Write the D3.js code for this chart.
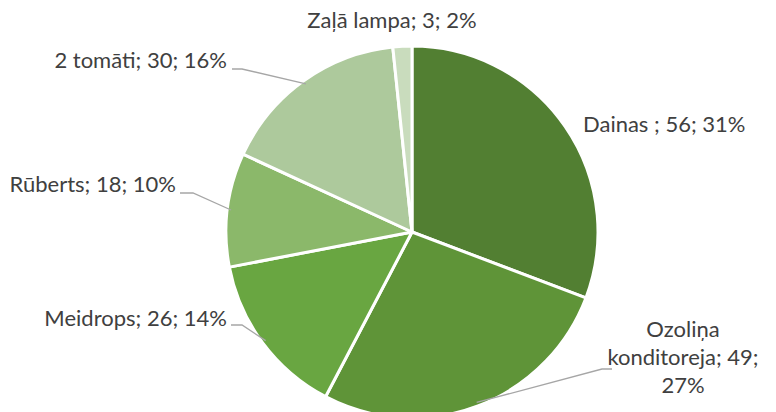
<!DOCTYPE html>
<html>
<head>
<meta charset="utf-8">
<script src="https://cdn.jsdelivr.net/npm/d3@7"></script>
<style>
  body { margin: 0; background: #fff; }
  text { font-family: Lato, "Open Sans", sans-serif; fill: #404040; font-size: 22px; }
</style>
</head>
<body>
<div id="chart"></div>
<script>
const categories = ["Dainas ", "Ozoliņa konditoreja", "Meidrops", "Rūberts", "2 tomāti", "Zaļā lampa"];
const values = [56, 49, 26, 18, 30, 3];
const colors = ["#527f32", "#5f9438", "#69a641", "#8bb86a", "#adc99c", "#c9dcbd"];

// label placement (anchor position + text alignment), in px
const labelPos = [
  { x: 583, y: 126, anchor: "start", lines: null, leader: null },
  { x: 683, y: 331, anchor: "middle", lines: ["Ozoliņa", "konditoreja; 49;", "27%"], leader: [[612, 369], [602, 369]] },
  { x: 227, y: 320, anchor: "end", lines: null, leader: [[231, 325], [242, 325]] },
  { x: 176, y: 186, anchor: "end", lines: null, leader: [[180, 193], [193, 193]] },
  { x: 227, y: 62, anchor: "end", lines: null, leader: [[232, 69], [242, 69]] },
  { x: 392, y: 22, anchor: "middle", lines: null, leader: null }
];

const width = 776, height = 412;
const cx = 412, cy = 232, radius = 186;

const total = d3.sum(values);
const pct = v => Math.round(v / total * 100) + "%";

const svg = d3.select("#chart").append("svg")
  .attr("width", width)
  .attr("height", height);

const g = svg.append("g").attr("transform", `translate(${cx},${cy})`);

const pie = d3.pie().sort(null).value(d => d)(values);
const arc = d3.arc().innerRadius(0).outerRadius(radius);
const edgeArc = d3.arc().innerRadius(radius * 0.98).outerRadius(radius * 0.98);

g.selectAll("path")
  .data(pie)
  .enter()
  .append("path")
  .attr("d", arc)
  .attr("fill", (d, i) => colors[i])
  .attr("stroke", "#fff")
  .attr("stroke-width", 3)
  .attr("stroke-linejoin", "round");

// leader lines
pie.forEach((d, i) => {
  const lp = labelPos[i];
  if (!lp.leader) return;
  const c = edgeArc.centroid(d);
  const pts = lp.leader.concat([[cx + c[0], cy + c[1]]]);
  svg.append("polyline")
    .attr("points", pts.map(p => p.join(",")).join(" "))
    .attr("fill", "none")
    .attr("stroke", "#a6a6a6")
    .attr("stroke-width", 1.3);
});

// labels
pie.forEach((d, i) => {
  const lp = labelPos[i];
  const t = svg.append("text")
    .attr("x", lp.x)
    .attr("y", lp.y)
    .attr("text-anchor", lp.anchor)
    .attr("dominant-baseline", "middle");
  const lines = lp.lines || [categories[i] + "; " + values[i] + "; " + pct(values[i])];
  lines.forEach((l, k) => {
    t.append("tspan").attr("x", lp.x).attr("dy", k === 0 ? 0 : 28).text(l);
  });
});
</script>
</body>
</html>
